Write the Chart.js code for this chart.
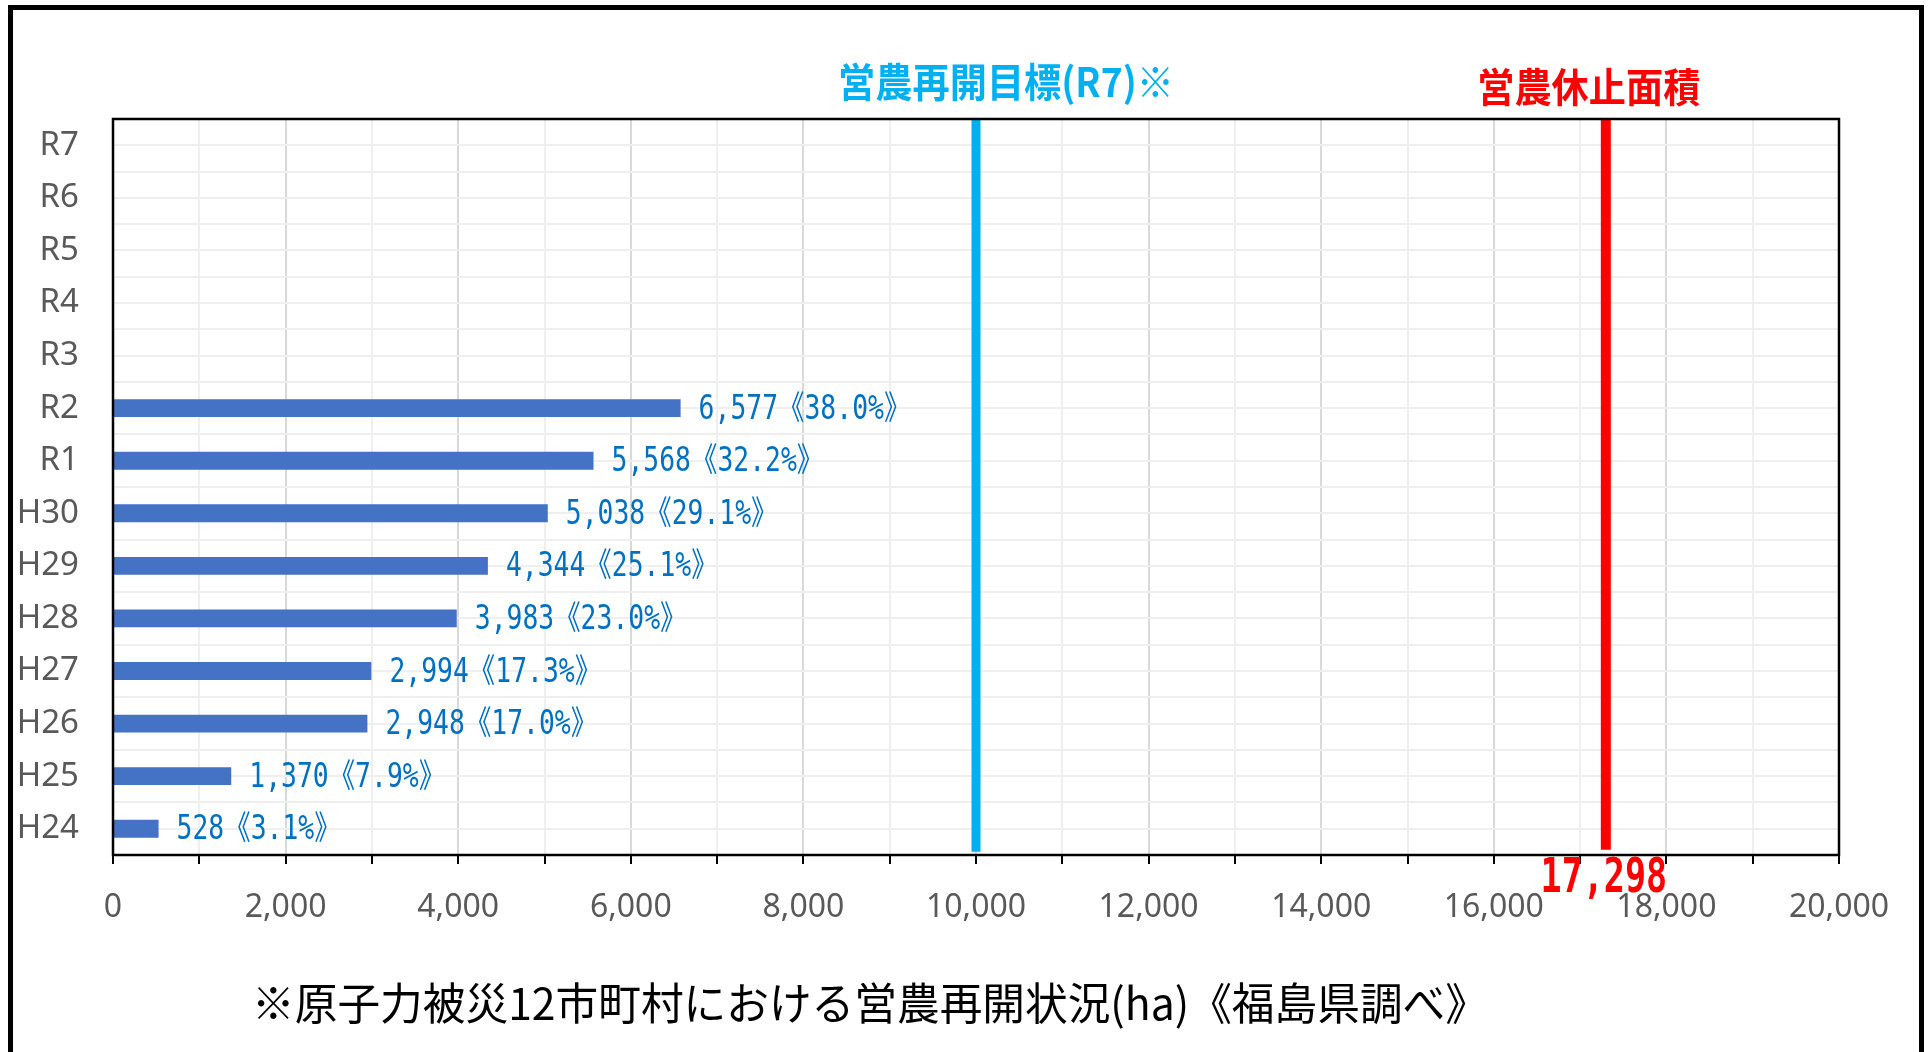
<!DOCTYPE html>
<html>
<head>
<meta charset="utf-8">
<script src="https://cdn.jsdelivr.net/npm/chart.js@4.4.0/dist/chart.umd.min.js"></script>
<style>
html, body { margin: 0; padding: 0; background: #fff; }
#wrap { position: relative; width: 1930px; height: 1052px; overflow: hidden; }
#frame { position: absolute; left: 8px; top: 5px; width: 1916px; height: 1060px;
         box-sizing: border-box; border: 5px solid #000; pointer-events: none; }
</style>
</head>
<body>
<div id="wrap">
  <canvas id="chart" width="1930" height="1052"></canvas>
  <div id="frame"></div>
</div>
<script>
// years, oldest first (drawn bottom to top)
const years = ['H24', 'H25', 'H26', 'H27', 'H28', 'H29', 'H30', 'R1', 'R2', 'R3', 'R4', 'R5', 'R6', 'R7'];
// resumed farming area (ha)
const areas = [528, 1370, 2948, 2994, 3983, 4344, 5038, 5568, 6577, null, null, null, null, null];
// share of suspended area (%)
const shares = [3.1, 7.9, 17.0, 17.3, 23.0, 25.1, 29.1, 32.2, 38.0, null, null, null, null, null];

const targetArea = 10000;     // 営農再開目標(R7)
const suspendedArea = 17298;  // 営農休止面積
const xMax = 20000;

const targetLabel = '営農再開目標(R7)※';
const suspendedLabel = '営農休止面積';
const footnote = '※原子力被災12市町村における営農再開状況(ha)《福島県調べ》';

const CJK = '"Noto Sans CJK JP", "Noto Sans", sans-serif';
const NARROW = '"DejaVu Sans Mono", "Noto Sans CJK JP", monospace';

function fmt(n) {
    return n.toLocaleString('en-US');
}

// draws text squeezed horizontally (the original uses a narrow gothic face)
function narrowText(ctx, text, x, y, sx, align) {
    ctx.save();
    ctx.translate(x, y);
    ctx.scale(sx, 1);
    ctx.textAlign = align;
    ctx.fillText(text, 0, 0);
    ctx.restore();
}

const decorations = {
    id: 'decorations',
    afterDatasetsDraw(chart) {
        const ctx = chart.ctx;
        const area = chart.chartArea;

        // value labels at the bar ends
        const meta = chart.getDatasetMeta(0);
        ctx.save();
        ctx.fillStyle = '#0070C0';
        ctx.font = '33px ' + NARROW;
        ctx.textBaseline = 'middle';
        meta.data.forEach((bar, i) => {
            if (areas[i] == null) return;
            const txt = fmt(areas[i]) + '《' + shares[i].toFixed(1) + '%》';
            narrowText(ctx, txt, bar.x + 18, bar.y + 2, 0.8, 'left');
        });
        ctx.restore();

        // plot frame
        ctx.save();
        ctx.strokeStyle = '#000';
        ctx.lineWidth = 2.5;
        ctx.strokeRect(area.left, area.top, area.right - area.left, area.bottom - area.top);
        ctx.restore();
    },
    afterDraw(chart) {
        const ctx = chart.ctx;
        const xs = chart.scales.x;
        ctx.save();
        ctx.textBaseline = 'middle';

        ctx.font = 'bold 40px ' + CJK;
        ctx.fillStyle = '#00B0F0';
        narrowText(ctx, targetLabel, xs.getPixelForValue(targetArea) + 30, 82, 0.93, 'center');
        ctx.fillStyle = '#FF0000';
        narrowText(ctx, suspendedLabel, xs.getPixelForValue(suspendedArea) - 17, 87, 0.93, 'center');

        ctx.font = 'bold 48px ' + NARROW;
        narrowText(ctx, fmt(suspendedArea), xs.getPixelForValue(suspendedArea) - 2, 880, 0.73, 'center');

        ctx.font = '44px ' + CJK;
        ctx.fillStyle = '#000';
        narrowText(ctx, footnote, 870, 1003, 0.97, 'center');
        ctx.restore();
    }
};

const ctx = document.getElementById('chart').getContext('2d');

new Chart(ctx, {
    type: 'bar',
    data: {
        labels: years,
        datasets: [
            {
                data: areas,
                backgroundColor: '#4472C4',
                grouped: false,
                categoryPercentage: 1.0,
                barPercentage: 0.34,
                order: 2
            },
            {
                type: 'line',
                data: [{ x: targetArea, y: 0.06 }, { x: targetArea, y: 14 }],
                yAxisID: 'y2',
                borderColor: '#00B0F0',
                borderWidth: 9,
                pointRadius: 0,
                order: 1
            },
            {
                type: 'line',
                data: [{ x: suspendedArea, y: 0.1 }, { x: suspendedArea, y: 14 }],
                yAxisID: 'y2',
                borderColor: '#FF0000',
                borderWidth: 10,
                pointRadius: 0,
                order: 1
            }
        ]
    },
    options: {
        indexAxis: 'y',
        responsive: false,
        animation: false,
        layout: { padding: { top: 119, right: 91, left: 0, bottom: 0 } },
        plugins: {
            legend: { display: false },
            tooltip: { enabled: false }
        },
        scales: {
            x: {
                type: 'linear',
                min: 0,
                max: xMax,
                border: { display: false },
                grid: {
                    color: c => (c.tick && c.tick.value % 2000 === 0) ? '#d9d9d9' : '#efefef',
                    lineWidth: 2,
                    tickColor: '#000',
                    tickLength: 9,
                    tickWidth: 2
                },
                ticks: {
                    stepSize: 1000,
                    autoSkip: false,
                    maxRotation: 0,
                    padding: 25,
                    color: '#595959',
                    font: { family: 'Noto Sans', size: 32 },
                    callback: v => (v % 2000 === 0) ? fmt(v) : ''
                },
                afterFit: s => { s.height = 1052 - 855; }
            },
            y: {
                reverse: true,
                border: { display: false },
                grid: { display: false },
                ticks: {
                    padding: 26,
                    color: '#595959',
                    font: { family: 'Noto Sans', size: 33 }
                },
                afterFit: s => { s.width = 113; }
            },
            y2: {
                type: 'linear',
                position: 'right',
                offset: false,
                min: 0,
                max: 14,
                border: { display: false },
                grid: { offset: false, color: '#efefef', lineWidth: 2, drawTicks: false },
                ticks: { display: false, stepSize: 0.5 },
                afterFit: s => { s.width = 0; }
            }
        }
    },
    plugins: [decorations]
});
</script>
</body>
</html>
